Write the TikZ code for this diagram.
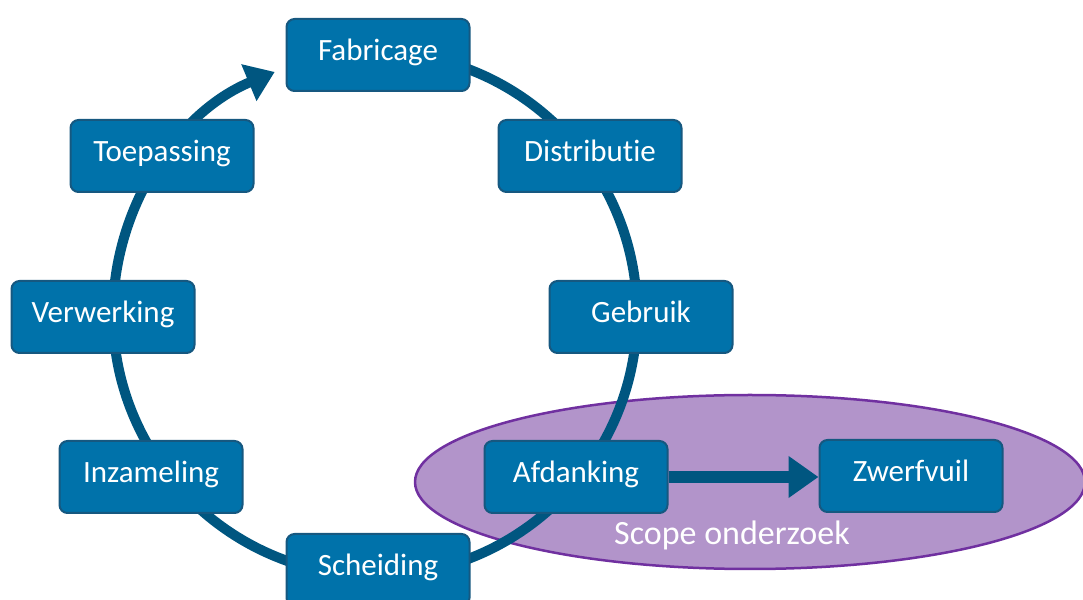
\documentclass[tikz,border=0pt]{standalone}
\usepackage{fontspec}
\setmainfont[Ligatures=NoCommon]{Carlito}
\usetikzlibrary{arrows.meta,shapes.geometric}
\definecolor{boxfill}{RGB}{0,114,170}
\definecolor{boxedge}{RGB}{22,88,128}
\definecolor{flow}{RGB}{0,86,128}
\definecolor{scopefill}{RGB}{178,148,202}
\definecolor{scopeedge}{RGB}{112,48,160}
\tikzset{
  stage/.style={draw=boxedge, line width=2pt, fill=boxfill, rounded corners=8pt,
    minimum width=183pt, minimum height=72pt, text=white, inner sep=0pt,
    font=\fontsize{31}{36}\selectfont, text depth=10pt},
  flowline/.style={draw=flow, line width=10pt},
}
\begin{document}
\begin{tikzpicture}[x=1pt,y=1pt]
\useasboundingbox (0,0) rectangle (1083,599);
\clip (0,0) rectangle (1083,599);
% scope ellipse
\node[draw=scopeedge, line width=2.5pt, fill=scopefill, ellipse, minimum width=670pt, minimum height=174pt, inner sep=0pt] (scope) at (750,117) {};
\node[text=white, font=\fontsize{34}{40}\selectfont] (scopelbl) at (732,64) {Scope onderzoek};
% cycle
\coordinate (ctr) at (375,285);
\coordinate (arcstart) at (375,547);
\draw[flowline, -{Triangle[length=28pt,width=38pt]}] (arcstart) arc[start angle=90, end angle=-247.5, radius=262pt] coordinate (arcend);
% boxes
\node[stage] (fab) at (378,544) {Fabricage};
\node[stage] (dis) at (590,443) {Distributie};
\node[stage] (geb) at (641,282) {Gebruik};
\node[stage] (afd) at (576,122) {Afdanking};
\node[stage] (zwe) at (911,123) {Zwerfvuil};
\node[stage] (sch) at (378,29) {Scheiding};
\node[stage] (inz) at (151,122) {Inzameling};
\node[stage] (ver) at (103,282) {Verwerking};
\node[stage] (toe) at (162,443) {Toepassing};
\draw[draw=flow, line width=12pt, -{Triangle[length=30pt,width=40pt]}] (afd.east) -- (zwe.west |- afd.east);
\end{tikzpicture}
\end{document}
